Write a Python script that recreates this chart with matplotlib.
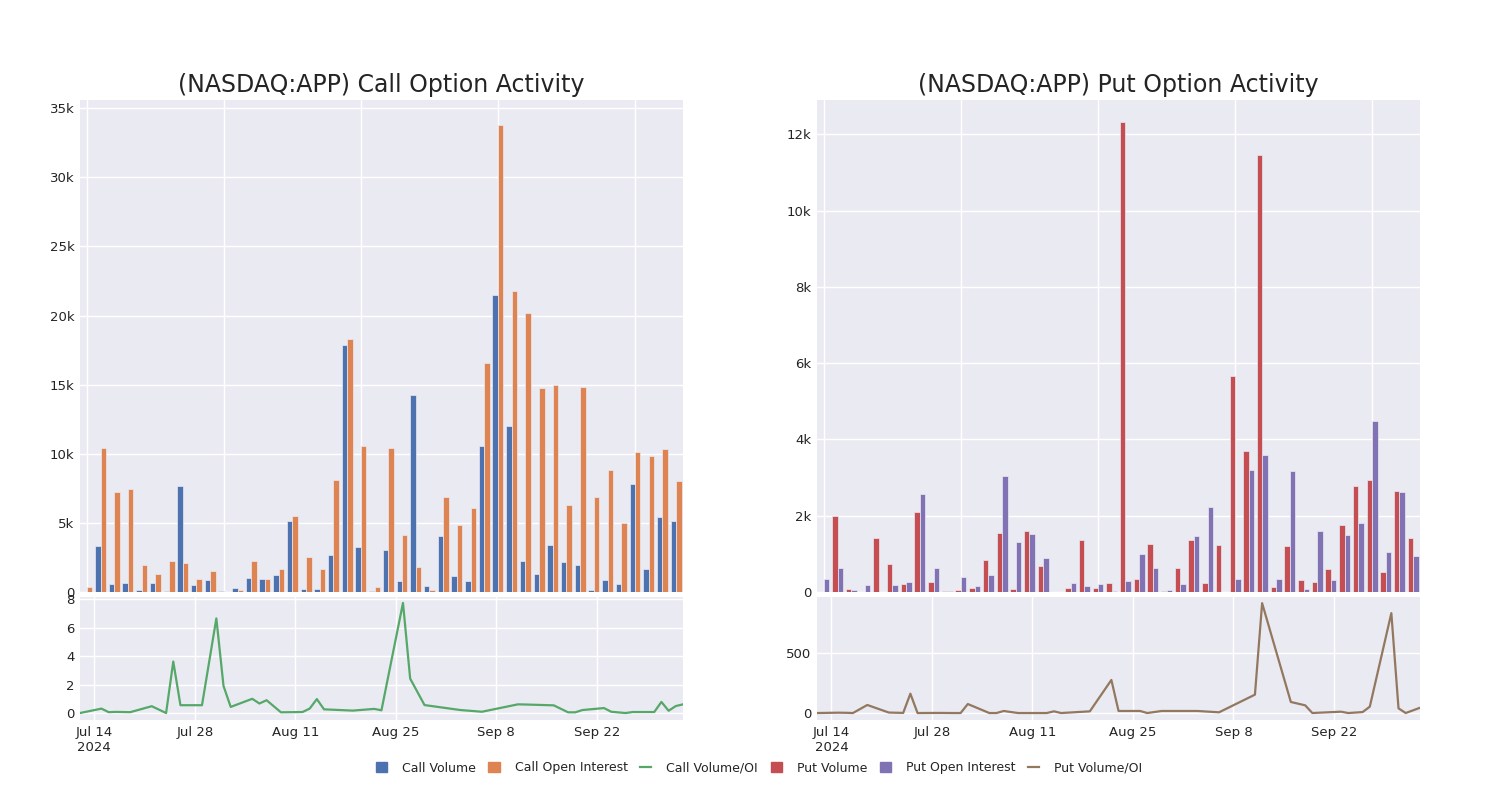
import matplotlib.pyplot as plt
import matplotlib.dates as mdates
import numpy as np
import pandas as pd
from matplotlib.lines import Line2D
from matplotlib.patches import Patch
from matplotlib.ticker import FuncFormatter

# trading days that have data
dates = pd.to_datetime([
    "2024-07-12", "2024-07-15", "2024-07-16", "2024-07-17", "2024-07-19", "2024-07-22",
    "2024-07-24", "2024-07-25", "2024-07-26", "2024-07-29", "2024-07-31", "2024-08-01",
    "2024-08-02", "2024-08-05", "2024-08-06", "2024-08-07", "2024-08-09", "2024-08-12",
    "2024-08-13", "2024-08-14", "2024-08-15", "2024-08-19", "2024-08-22", "2024-08-23",
    "2024-08-26", "2024-08-27", "2024-08-29", "2024-09-03", "2024-09-06", "2024-09-11",
    "2024-09-12", "2024-09-16", "2024-09-18", "2024-09-19", "2024-09-20", "2024-09-23",
    "2024-09-24", "2024-09-26", "2024-09-27", "2024-09-30", "2024-10-01", "2024-10-02",
    "2024-10-03", "2024-10-04",
])

call_volume = [20, 3330, 600, 650, 120, 630, 40, 7660, 530, 850,
               40, 290, 1010, 940, 1230, 5120, 240, 190, 2680, 17900,
               3290, 50, 3040, 770, 14230, 410, 4060, 1140, 770, 10580,
               21520, 12000, 2270, 1330, 3430, 2170, 1960, 120, 870, 560,
               7830, 1640, 5410, 5170]
call_oi = [390, 10390, 7200, 7460, 1930, 1300, 2220, 2080, 970, 1500,
           6, 145, 2220, 940, 1670, 5500, 2540, 1690, 8140, 18330,
           10560, 390, 10410, 4150, 1810, 145, 6840, 4880, 6060, 16570,
           33770, 21790, 20190, 14760, 14980, 6330, 14830, 6840, 8820, 5020,
           10140, 9860, 10360, 8000]
call_ratio = [0.0, 0.31, 0.06, 0.08, 0.06, 0.48, 0.0, 3.62, 0.55, 0.55,
              6.65, 1.9, 0.43, 1.0, 0.67, 0.9, 0.05, 0.07, 0.31, 0.98,
              0.26, 0.17, 0.29, 0.19, 7.74, 2.42, 0.56, 0.21, 0.09, 0.61,
              0.6, 0.54, 0.05, 0.05, 0.21, 0.35, 0.09, 0.0, 0.07, 0.07,
              0.78, 0.16, 0.49, 0.61]

put_volume = [10, 1980, 90, 10, 1420, 740, 220, 2110, 260, 35,
              60, 100, 840, 1560, 80, 1600, 680, 10, 100, 1370,
              100, 230, 12320, 340, 1270, 35, 630, 1360, 230, 1230,
              5660, 3700, 11450, 130, 1200, 310, 260, 610, 1760, 2780,
              2940, 520, 2640, 1410]
put_oi = [330, 630, 40, 180, 10, 180, 270, 2560, 630, 30,
          400, 170, 450, 3040, 1310, 1530, 890, 10, 230, 160,
          210, 20, 300, 990, 640, 60, 220, 1460, 2220, 0,
          350, 3200, 3580, 350, 3180, 90, 1600, 310, 1490, 1810,
          4490, 1050, 2620, 950]
put_ratio = [0, 3, 2, 0, 67, 4, 1, 161, 0, 1,
             0, 0, 75, 0, 0, 17, 0, 0, 0, 14,
             0, 14, 275, 17, 17, 0, 17, 17, 6, 153,
             914, 92, 64, 0, 3, 11, 0, 8, 53, 831,
             39, 0, 22, 44]

date_ticks = pd.to_datetime(["2024-07-14", "2024-07-28", "2024-08-11",
                             "2024-08-25", "2024-09-08", "2024-09-22"])
date_labels = ["Jul 14\n2024", "Jul 28", "Aug 11", "Aug 25", "Sep 8", "Sep 22"]

BG = "#EAEAF2"
TXT = "#242424"
C_BLUE, C_ORANGE, C_GREEN = "#4C72B0", "#DD8452", "#55A868"
C_RED, C_PURPLE, C_BROWN = "#C44E52", "#8172B3", "#937860"

plt.rcParams["font.family"] = ["DejaVu Sans"]


def style_axis(ax):
    ax.set_facecolor(BG)
    for s in ax.spines.values():
        s.set_visible(False)
    ax.grid(True, color="white", linewidth=1.0)
    ax.set_axisbelow(True)
    ax.tick_params(length=0, labelsize=9.5, colors=TXT, pad=4)


def kfmt(v, _):
    if v == 0:
        return "0"
    return f"{v / 1000:g}k"


def draw_panel(left, title, vol, oi, ratio, c_vol, c_oi, c_line, ymax_bar, bar_ticks, line_lim, line_ticks):
    ax_bar = fig.add_axes([left, 0.26, 0.402, 0.615])
    ax_line = fig.add_axes([left, 0.10, 0.402, 0.154])
    style_axis(ax_bar)
    style_axis(ax_line)

    x = np.arange(len(vol))
    ax_bar.bar(x - 0.2, vol, width=0.4, color=c_vol, edgecolor=BG, linewidth=0.5)
    ax_bar.bar(x + 0.2, oi, width=0.4, color=c_oi, edgecolor=BG, linewidth=0.5)
    ax_bar.set_xlim(-0.5, len(vol) - 0.5)
    ax_bar.set_xticks([0, 10, 20, 30, 40])
    ax_bar.tick_params(labelbottom=False)
    ax_bar.set_ylim(0, ymax_bar)
    ax_bar.set_yticks(bar_ticks)
    ax_bar.yaxis.set_major_formatter(FuncFormatter(kfmt))
    ax_bar.set_title(title, fontsize=17, color=TXT, pad=6)

    ax_line.plot(dates, ratio, color=c_line, linewidth=1.6)
    ax_line.set_xlim(dates[0], dates[-1])
    ax_line.set_xticks(date_ticks)
    ax_line.set_xticklabels(date_labels, ha="center")
    ax_line.set_ylim(*line_lim)
    ax_line.set_yticks(line_ticks)
    ax_line.yaxis.set_major_formatter(FuncFormatter(lambda v, _: f"{v:g}"))
    return ax_bar, ax_line


fig = plt.figure(figsize=(15, 8), dpi=100)

draw_panel(0.0533, "(NASDAQ:APP) Call Option Activity", call_volume, call_oi, call_ratio,
           C_BLUE, C_ORANGE, C_GREEN, 35600, np.arange(0, 35001, 5000),
           (-0.49, 8.17), [0, 2, 4, 6, 8])
draw_panel(0.5447, "(NASDAQ:APP) Put Option Activity", put_volume, put_oi, put_ratio,
           C_RED, C_PURPLE, C_BROWN, 12900, np.arange(0, 12001, 2000),
           (-58, 967), [0, 500])

handles = [
    Patch(color=C_BLUE, label="Call Volume"),
    Patch(color=C_ORANGE, label="Call Open Interest"),
    Line2D([], [], color=C_GREEN, linewidth=1.6, label="Call Volume/OI"),
    Patch(color=C_RED, label="Put Volume"),
    Patch(color=C_PURPLE, label="Put Open Interest"),
    Line2D([], [], color=C_BROWN, linewidth=1.6, label="Put Volume/OI"),
]
fig.legend(handles=handles, ncol=6, loc="center", bbox_to_anchor=(0.506, 0.04),
           frameon=False, fontsize=9, handlelength=0.9, handleheight=0.9,
           handletextpad=1.2, columnspacing=1.0, labelcolor=TXT)

fig.savefig("out.png", dpi=100)
